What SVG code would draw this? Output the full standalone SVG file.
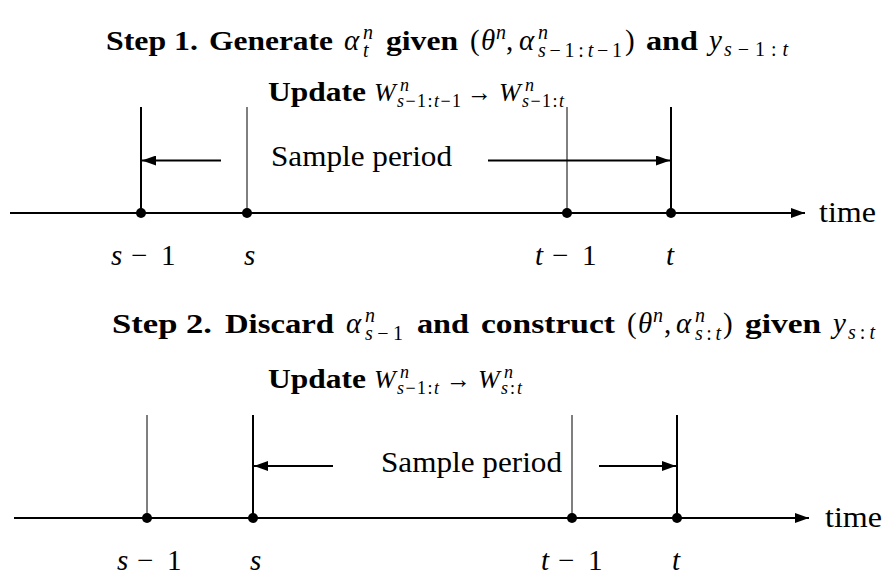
<svg xmlns="http://www.w3.org/2000/svg" width="882" height="577" viewBox="0 0 882 577" font-family="Liberation Serif">
<style>
text{font-family:"Liberation Serif",serif;fill:#000}
.b{font-weight:bold;font-size:28px}
.m{font-style:italic;font-size:29px}
.r{font-size:29px}
.s{font-style:italic;font-size:20px}
.ub{font-weight:bold;font-size:27px}
.um{font-style:italic;font-size:26px}
.ur{font-size:26px}
.us{font-style:italic;font-size:18px}
.l{font-size:29px}
.li{font-style:italic;font-size:29px}
.u{font-style:normal}
.ln{stroke:#000;fill:none}
.thick{stroke-width:2}
.thin{stroke-width:1}
.ax{stroke-width:2}
.arr{stroke-width:2}
</style>
<defs>
<marker id="ah" viewBox="0 0 14 10" refX="14" refY="5" markerWidth="14" markerHeight="10" markerUnits="userSpaceOnUse" orient="auto">
<path d="M0,0 L14,5 L0,10 Z" fill="#000"/>
</marker>
</defs>

<g id="title1">
<text class="b" x="106" y="50" textLength="92" lengthAdjust="spacingAndGlyphs">Step 1.</text>
<text class="b" x="209" y="50" textLength="124" lengthAdjust="spacingAndGlyphs">Generate</text>
<text class="m" x="344" y="50">α</text>
<text class="s" x="363" y="39">n</text>
<text class="s" x="363" y="57">t</text>
<text class="b" x="386" y="50" textLength="72" lengthAdjust="spacingAndGlyphs">given</text>
<text class="r" x="470" y="50">(</text>
<text class="m" x="481" y="50">θ</text>
<text class="s" x="496" y="39">n</text>
<text class="r" x="506" y="50">,</text>
<text class="m" x="519" y="50">α</text>
<text class="s" x="538" y="39">n</text>
<text class="s" x="538" y="57" textLength="84" lengthAdjust="spacing">s<tspan class="u">−1:</tspan>t<tspan class="u">−1</tspan></text>
<text class="r" x="625" y="50">)</text>
<text class="b" x="646" y="50" textLength="52" lengthAdjust="spacingAndGlyphs">and</text>
<text class="m" x="709" y="50">y</text>
<text class="s" x="724" y="56" textLength="64" lengthAdjust="spacing">s<tspan class="u">−1:</tspan>t</text>
</g>

<g id="update1">
<text class="ub" x="268" y="101" textLength="98" lengthAdjust="spacingAndGlyphs">Update</text>
<text class="um" x="374" y="101">W</text>
<text class="us" x="400" y="91">n</text>
<text class="us" x="397" y="107" textLength="64" lengthAdjust="spacing">s<tspan class="u">−1:</tspan>t<tspan class="u">−1</tspan></text>
<text class="ur" x="467" y="101" textLength="25" lengthAdjust="spacingAndGlyphs">→</text>
<text class="um" x="499" y="101">W</text>
<text class="us" x="525" y="91">n</text>
<text class="us" x="522" y="107" textLength="42" lengthAdjust="spacing">s<tspan class="u">−1:</tspan>t</text>
</g>

<g id="title2">
<text class="b" x="112" y="333" textLength="100" lengthAdjust="spacingAndGlyphs">Step 2.</text>
<text class="b" x="225" y="333" textLength="109" lengthAdjust="spacingAndGlyphs">Discard</text>
<text class="m" x="346" y="333">α</text>
<text class="s" x="365" y="322">n</text>
<text class="s" x="365" y="340" textLength="38" lengthAdjust="spacing">s<tspan class="u">−1</tspan></text>
<text class="b" x="417" y="333" textLength="52" lengthAdjust="spacingAndGlyphs">and</text>
<text class="b" x="481" y="333" textLength="134" lengthAdjust="spacingAndGlyphs">construct</text>
<text class="r" x="627" y="333">(</text>
<text class="m" x="638" y="333">θ</text>
<text class="s" x="653" y="322">n</text>
<text class="r" x="664" y="333">,</text>
<text class="m" x="676" y="333">α</text>
<text class="s" x="695" y="322">n</text>
<text class="s" x="695" y="340" textLength="26" lengthAdjust="spacing">s<tspan class="u">:</tspan>t</text>
<text class="r" x="723" y="333">)</text>
<text class="b" x="745" y="333" textLength="76" lengthAdjust="spacingAndGlyphs">given</text>
<text class="m" x="833" y="333">y</text>
<text class="s" x="848" y="339" textLength="27" lengthAdjust="spacing">s<tspan class="u">:</tspan>t</text>
</g>

<g id="update2">
<text class="ub" x="268" y="388" textLength="98" lengthAdjust="spacingAndGlyphs">Update</text>
<text class="um" x="374" y="388">W</text>
<text class="us" x="400" y="378">n</text>
<text class="us" x="397" y="394" textLength="42" lengthAdjust="spacing">s<tspan class="u">−1:</tspan>t</text>
<text class="ur" x="446" y="388" textLength="25" lengthAdjust="spacingAndGlyphs">→</text>
<text class="um" x="478" y="388">W</text>
<text class="us" x="504" y="378">n</text>
<text class="us" x="501" y="394" textLength="21" lengthAdjust="spacing">s<tspan class="u">:</tspan>t</text>
</g>

<g id="connectors">
<line class="ln ax" x1="10" y1="213" x2="805" y2="213" marker-end="url(#ah)"/>
<line class="ln thick" x1="141" y1="107" x2="141" y2="213"/>
<line class="ln thin" x1="247" y1="107" x2="247" y2="213"/>
<line class="ln thin" x1="567" y1="107" x2="567" y2="213"/>
<line class="ln thick" x1="671" y1="107" x2="671" y2="213"/>
<line class="ln arr" x1="221" y1="160.5" x2="142" y2="160.5" marker-end="url(#ah)"/>
<line class="ln arr" x1="488" y1="160.5" x2="670" y2="160.5" marker-end="url(#ah)"/>
<line class="ln ax" x1="14" y1="518" x2="809" y2="518" marker-end="url(#ah)"/>
<line class="ln thin" x1="147" y1="415" x2="147" y2="518"/>
<line class="ln thick" x1="253" y1="415" x2="253" y2="518"/>
<line class="ln thin" x1="572" y1="415" x2="572" y2="518"/>
<line class="ln thick" x1="677" y1="415" x2="677" y2="518"/>
<line class="ln arr" x1="333" y1="466" x2="254" y2="466" marker-end="url(#ah)"/>
<line class="ln arr" x1="599" y1="466" x2="676" y2="466" marker-end="url(#ah)"/>
</g>

<g id="top-points">
<circle cx="141" cy="213" r="5"/>
<circle cx="247" cy="213" r="5"/>
<circle cx="567" cy="213" r="5"/>
<circle cx="671" cy="213" r="5"/>
<text class="l" x="271" y="166" textLength="181" lengthAdjust="spacingAndGlyphs">Sample period</text>
<text class="l" x="819" y="222" textLength="57" lengthAdjust="spacingAndGlyphs">time</text>
<text class="li" x="111" y="265">s</text><text class="l" x="131" y="265">−</text><text class="l" x="161" y="265">1</text>
<text class="li" x="244" y="265">s</text>
<text class="li" x="535" y="265">t</text><text class="l" x="552" y="265">−</text><text class="l" x="582" y="265">1</text>
<text class="li" x="666" y="265">t</text>
</g>

<g id="bottom-points">
<circle cx="147" cy="518" r="5"/>
<circle cx="253" cy="518" r="5"/>
<circle cx="572" cy="518" r="5"/>
<circle cx="677" cy="518" r="5"/>
<text class="l" x="381" y="472" textLength="181" lengthAdjust="spacingAndGlyphs">Sample period</text>
<text class="l" x="825" y="527" textLength="57" lengthAdjust="spacingAndGlyphs">time</text>
<text class="li" x="117" y="570">s</text><text class="l" x="137" y="570">−</text><text class="l" x="167" y="570">1</text>
<text class="li" x="250" y="570">s</text>
<text class="li" x="541" y="570">t</text><text class="l" x="558" y="570">−</text><text class="l" x="588" y="570">1</text>
<text class="li" x="672" y="570">t</text>
</g>
</svg>
